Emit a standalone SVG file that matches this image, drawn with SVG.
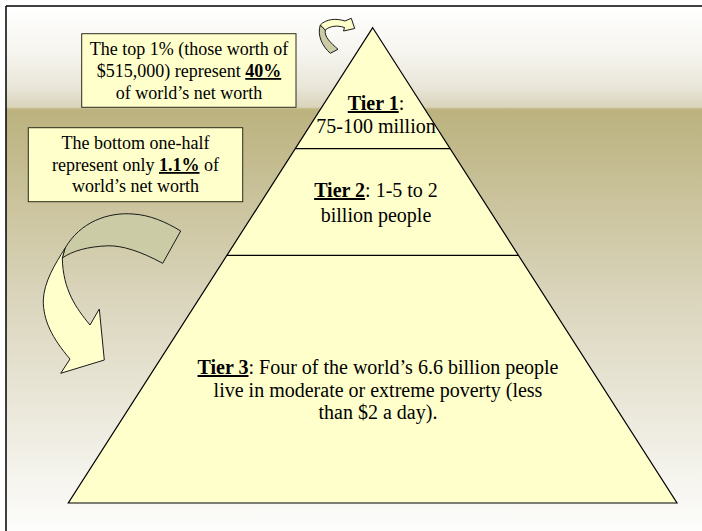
<svg xmlns="http://www.w3.org/2000/svg" width="702" height="531" viewBox="0 0 702 531">
<defs>
<linearGradient id="gTop" x1="0" y1="0" x2="0" y2="1">
<stop offset="0" stop-color="#FFFFFF"/>
<stop offset="0.45" stop-color="#F6F5EF"/>
<stop offset="0.8" stop-color="#E9E6D8"/>
<stop offset="1" stop-color="#D9D3B9"/>
</linearGradient>
<linearGradient id="gBot" x1="0" y1="0" x2="0" y2="1">
<stop offset="0" stop-color="#BBB27E"/>
<stop offset="0.45" stop-color="#DAD5BC"/>
<stop offset="1" stop-color="#FDFDFC"/>
</linearGradient>
<style>
.t{font-family:"Liberation Serif","Times New Roman",serif;font-size:18px;fill:#000;text-anchor:middle}
.p{font-size:20px}
.b{font-weight:bold;text-decoration:underline}
.box{fill:#FFFFCC;stroke:#2b2b1a;stroke-width:1}
.pyr{fill:#FFFFCC;stroke:#000;stroke-width:1.2}
.div{stroke:#000;stroke-width:1.2}
.front{fill:#FFFFCC;stroke:#1a1a1a;stroke-width:1}
.back{fill:#CBCBA5;stroke:#1a1a1a;stroke-width:1}
</style>
</defs>
<rect x="0" y="0" width="702" height="531" fill="#FFFFFF"/>
<rect x="6" y="6" width="696" height="102" fill="url(#gTop)"/>
<rect x="6" y="108" width="696" height="423" fill="url(#gBot)"/>
<line x1="6" y1="108.5" x2="702" y2="108.5" stroke="#C6BD90" stroke-width="1.5"/>
<line x1="6" y1="6" x2="702" y2="6" stroke="#000" stroke-width="1.5"/>
<line x1="6" y1="6" x2="6" y2="531" stroke="#000" stroke-width="1.5"/>

<g id="pyramid">
<polygon class="pyr" points="372.7,27.7 677,503 68.3,503"/>
</g>

<g id="connectors">
<line class="div" x1="295.2" y1="148.7" x2="450.2" y2="148.7"/>
<line class="div" x1="226.9" y1="255.3" x2="518.5" y2="255.3"/>
<g id="arrow-small">
<path class="back" d="M320.3,25 C317,35 322,46 330.3,53.3 L338,49.3 C331,43 324,37 325.3,30 Z"/>
<path class="front" d="M320.3,25 C326,19 336,18 345,21 L351.3,18.3 L354.7,28.5 L343.5,31 L344.5,27.5 C337,25 330,26 325.3,30 Z"/>
</g>
<g id="arrow-big">
<path class="back" d="M65,248.3 C80,222 108,212 133,214 C150,215 166,222 180.7,231 L162.7,263.3 C140,251 122,245.5 108,245.8 C88,246.5 72,251 62.3,258 Z"/>
<path class="front" d="M65,248.3 C55,264 44,282 43.3,300 C43,320 52,338 70,359 L60.7,373.3 L104.3,360 L99.3,309 L90,325 C76,308 63,290 62.3,258 Z"/>
</g>
</g>

<g id="tier1">
<text class="t p" x="376" y="110"><tspan class="b">Tier 1</tspan>:</text>
<text class="t p" x="376" y="133">75-100 million</text>
</g>
<g id="tier2">
<text class="t p" x="376" y="197"><tspan class="b">Tier 2</tspan>: 1-5 to 2</text>
<text class="t p" x="376" y="222">billion people</text>
</g>
<g id="tier3">
<text class="t p" x="378" y="374"><tspan class="b">Tier 3</tspan>: Four of the world’s 6.6 billion people</text>
<text class="t p" x="378" y="396.5">live in moderate or extreme poverty (less</text>
<text class="t p" x="378" y="419">than $2 a day).</text>
</g>

<g id="box-top">
<rect class="box" x="81.7" y="33.7" width="214.3" height="73.6"/>
<text class="t" x="189" y="55">The top 1% (those worth of</text>
<text class="t" x="189" y="77">$515,000) represent <tspan class="b">40%</tspan></text>
<text class="t" x="189" y="98.5">of world’s net worth</text>
</g>
<g id="box-bottom">
<rect class="box" x="28.3" y="127.7" width="214.4" height="74"/>
<text class="t" x="135.5" y="149">The bottom one-half</text>
<text class="t" x="135.5" y="171">represent only <tspan class="b">1.1%</tspan> of</text>
<text class="t" x="135.5" y="192">world’s net worth</text>
</g>
</svg>
